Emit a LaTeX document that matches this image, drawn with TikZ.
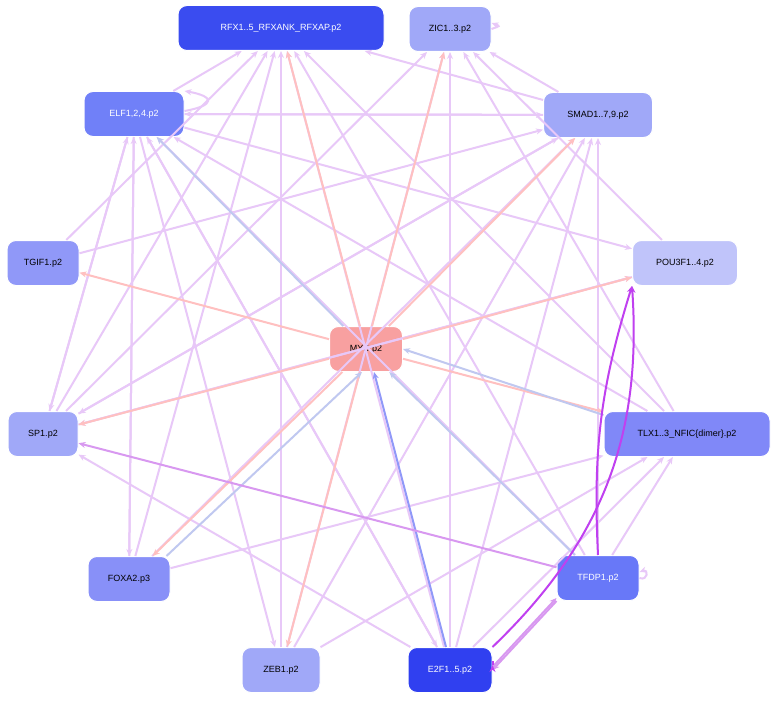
\documentclass[tikz,border=0pt]{standalone}
\usepackage{fontspec}
\setmainfont{Liberation Sans}
\usetikzlibrary{arrows.meta}
\definecolor{lav}{HTML}{E8C8F8}
\definecolor{pk}{HTML}{FFC0C0}
\definecolor{lb}{HTML}{C0C8F0}
\definecolor{pur}{HTML}{C040F0}
\definecolor{mpur}{HTML}{D898F0}
\begin{document}
\begin{tikzpicture}[x=1pt,y=-1pt,
 nd/.style={draw=white,line width=1pt,rounded corners=9pt,minimum height=45pt,inner xsep=8pt,font=\fontsize{9}{11}\selectfont},
 e/.style={draw=lav,line width=2pt,-{Stealth[length=7pt,width=6pt]}},
 ep/.style={e,draw=pk},
 eb/.style={e,draw=lb},
 es/.style={e,draw=pur},
 em/.style={e,draw=mpur}]
\fill[white] (0,0) rectangle (774,701);
\node[nd,fill={rgb,255:red,58;green,76;blue,240},text=white,minimum width=206pt] (rfx) at (281,28) {RFX1..5\_RFXANK\_RFXAP.p2};
\node[nd,fill={rgb,255:red,160;green,168;blue,248},minimum width=82pt] (zic) at (450,29) {ZIC1..3.p2};
\node[nd,fill={rgb,255:red,112;green,128;blue,248},text=white,minimum width=100pt] (elf) at (134,114) {ELF1,2,4.p2};
\node[nd,fill={rgb,255:red,160;green,168;blue,248},minimum width=109pt] (smad) at (598,115) {SMAD1..7,9.p2};
\node[nd,fill={rgb,255:red,144;green,152;blue,248},minimum width=72pt] (tgif) at (43,263) {TGIF1.p2};
\node[nd,fill={rgb,255:red,192;green,196;blue,250},minimum width=105pt] (pou) at (685,263) {POU3F1..4.p2};
\node[nd,fill={rgb,255:red,248;green,160;blue,160},minimum width=73pt] (myb) at (366,349) {MYB.p2};
\node[nd,fill={rgb,255:red,160;green,168;blue,248},minimum width=70pt] (sp1) at (43,434) {SP1.p2};
\node[nd,fill={rgb,255:red,128;green,136;blue,248},minimum width=166pt] (tlx) at (687,434) {TLX1..3\_NFIC\{dimer\}.p2};
\node[nd,fill={rgb,255:red,136;green,144;blue,248},minimum width=82pt] (foxa) at (129,579) {FOXA2.p3};
\node[nd,fill={rgb,255:red,104;green,120;blue,248},text=white,minimum width=82pt] (tfdp) at (598,578) {TFDP1.p2};
\node[nd,fill={rgb,255:red,160;green,168;blue,248},minimum width=78pt] (zeb) at (281,670) {ZEB1.p2};
\node[nd,fill={rgb,255:red,48;green,64;blue,240},text=white,minimum width=84pt] (e2f) at (450,670) {E2F1..5.p2};
\begin{scope}[on background layer/.style={}]
% lavender edges
\foreach \a/\b in {elf/rfx,elf/smad,elf/pou,elf/e2f,elf/zeb,elf/foxa,elf/sp1,tgif/rfx,sp1/rfx,sp1/elf,sp1/zic,sp1/smad,sp1/pou,foxa/rfx,foxa/elf,foxa/smad,foxa/tlx,zeb/rfx,zeb/smad,zeb/tlx,zeb/zic,e2f/rfx,e2f/zic,e2f/smad,e2f/elf,e2f/sp1,e2f/tlx,tfdp/rfx,tfdp/elf,tfdp/smad,tfdp/tlx,tlx/zic,tlx/elf,tlx/rfx,smad/zic,smad/rfx,smad/sp1,pou/sp1,tgif/smad,smad/elf,pou/zic}
 \draw[e] (\a) -- (\b);
\draw[e] (elf.east) ++(0,-3) to[out=10,in=-10,looseness=4] (elf.north east);
\draw[e] (zic.east) to[out=20,in=-20,looseness=4] ([yshift=6pt]zic.east);
\draw[e] (tfdp.east) to[out=-20,in=20,looseness=4] ([yshift=6pt]tfdp.east);
% pink edges from MYB
\foreach \b in {rfx,zic,smad,pou,tgif,sp1,tlx,foxa,zeb}
 \draw[ep] (myb) -- (\b);
% blue edges to MYB
\draw[eb] ([xshift=-4pt]foxa.north east) -- ([xshift=-4pt]myb.south);
\draw[eb] (tfdp) -- (myb);
\draw[eb] ([yshift=-4pt]tlx.north west) -- (myb.east);
\draw[eb] (myb) -- (elf);
\draw[e,draw={rgb,255:red,144;green,152;blue,248}] ([xshift=-4pt]e2f.north) -- ([xshift=8pt]myb.south);
% purple
\draw[es] (tfdp.north) to[bend left=10] (pou.south west);
\draw[es] (e2f.north east) to[bend right=25] (pou.south west);
\draw[em] ([yshift=3pt]e2f.east) -- ([yshift=3pt]tfdp.south west);
\draw[em] (tfdp.south west) -- (e2f.east);
\draw[em] (tfdp) -- (sp1);
\draw[es] (e2f.east) ++(0,-5) to[out=0,in=0,looseness=3] ([yshift=5pt]e2f.east);
\end{scope}
\end{tikzpicture}
\end{document}
